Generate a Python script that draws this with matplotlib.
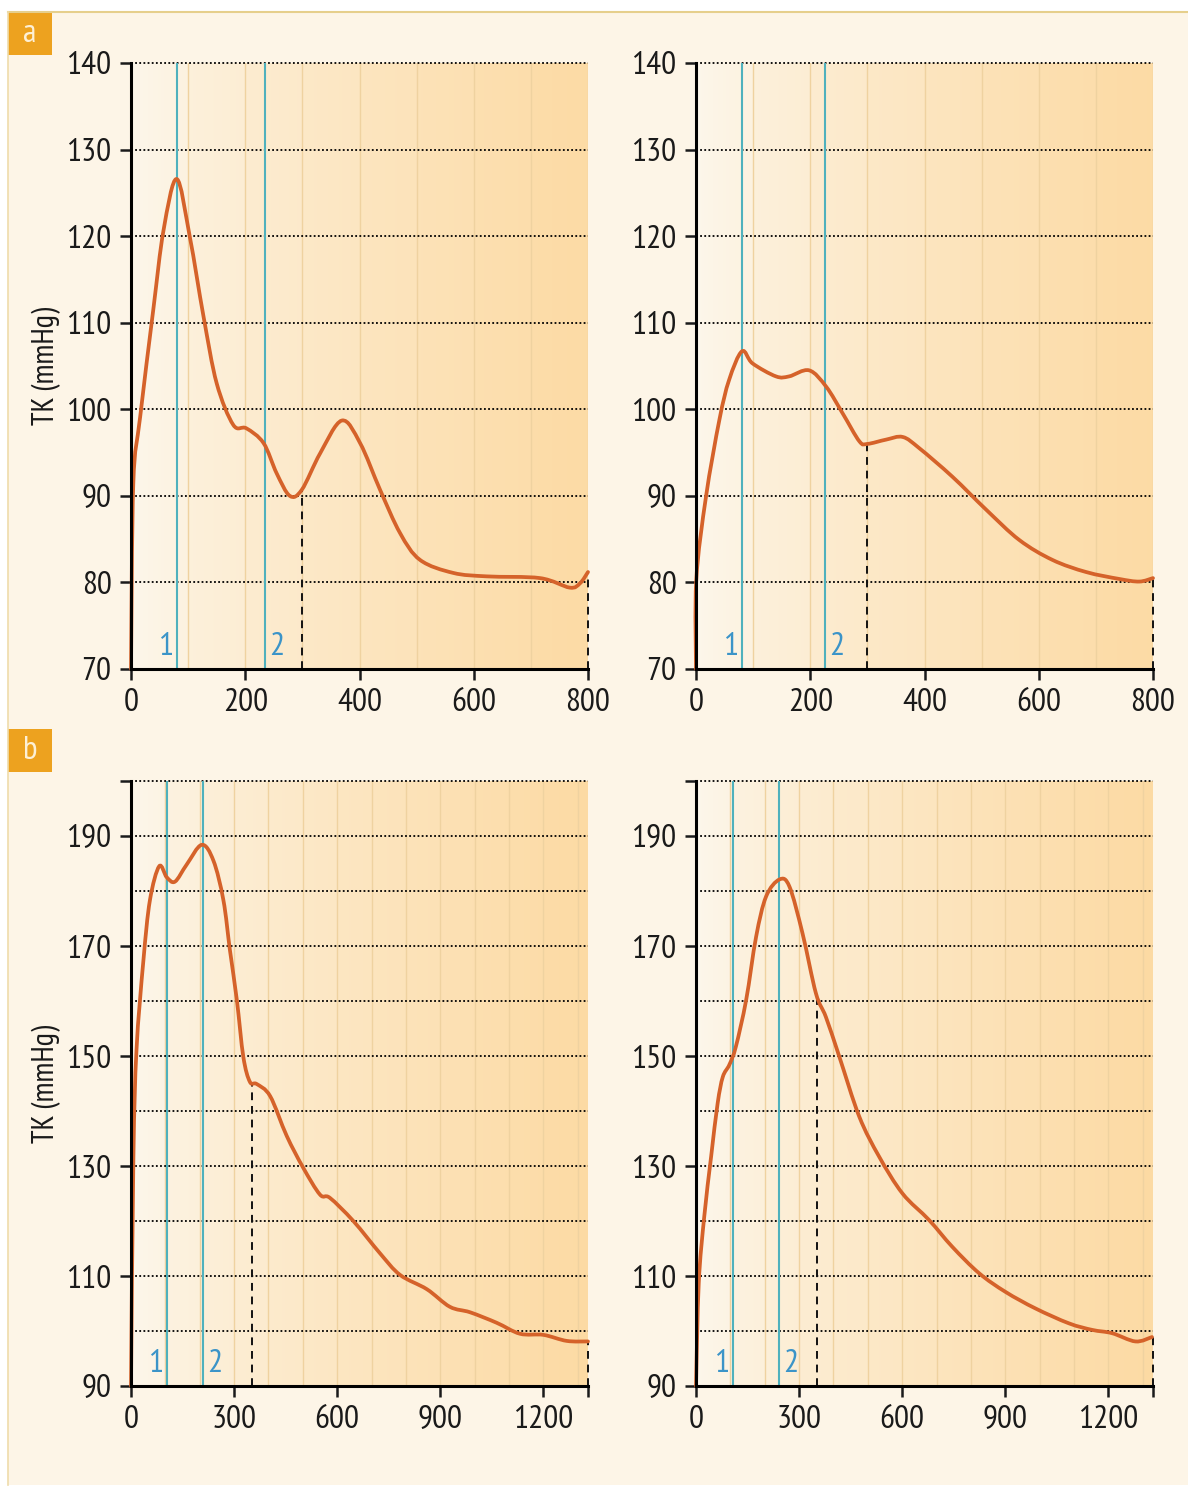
import numpy as np
import matplotlib.pyplot as plt
from matplotlib import font_manager
from matplotlib.patches import Rectangle, PathPatch
from matplotlib.path import Path
from matplotlib.lines import Line2D
from matplotlib.transforms import blended_transform_factory

# pick a condensed sans face if one is installed
fonts = font_manager.fontManager.ttflist
names = {f.name for f in fonts}
prefer = ['Liberation Sans Narrow', 'PT Sans Narrow', 'Fira Sans Condensed',
          'Open Sans Condensed', 'Roboto Condensed', 'Noto Sans Condensed',
          'Source Sans Pro', 'Source Sans 3', 'Archivo Narrow', 'Ubuntu Condensed',
          'IBM Plex Sans Condensed']
narrow = [n for n in prefer if n in names]
if not narrow:
    narrow = sorted(n for n in names if ('Narrow' in n or 'Condensed' in n) and 'Sans' in n)
if not narrow:
    narrow = sorted(n for n in names if 'Narrow' in n or 'Condensed' in n)
plt.rcParams['font.family'] = (narrow[:1] or ['Roboto']) + ['DejaVu Sans']

# panel a, left (time ms, pressure mmHg)
a1_t = [0, 4, 16, 39, 57, 80, 103, 127, 150, 179, 202, 232, 255, 278, 299, 331,
        369, 401, 436, 471, 506, 564, 623, 716, 768, 786, 800]
a1_p = [70, 91.4, 99.1, 111.5, 120.7, 126.6, 119.9, 110.7, 103, 98.2, 97.8, 96.1,
        92.6, 90.0, 90.7, 94.9, 98.7, 96.1, 90.7, 85.7, 82.6, 81.1, 80.7, 80.5,
        79.4, 79.9, 81.2]
# panel a, right
a2_t = [0, 0.5, 17.5, 41, 58, 80.5, 99, 140, 163, 198, 228, 257, 286, 300, 333,
        362, 391, 449, 508, 566, 624, 683, 741, 776, 800]
a2_p = [70, 80.3, 89.9, 98.8, 103.4, 106.7, 105.3, 103.8, 103.8, 104.5, 102.6,
        99.5, 96.3, 96.0, 96.5, 96.8, 95.5, 92.2, 88.4, 84.9, 82.6, 81.2, 80.4,
        80.1, 80.5]
# panel b, left
b1_t = [0, 7, 16, 36, 55, 82, 104, 128, 162, 206, 240, 269, 288, 308, 327, 346,
        366, 405, 453, 501, 550, 579, 647, 725, 783, 861, 928, 987, 1064, 1132,
        1200, 1268, 1330]
b1_p = [90, 131.6, 151.1, 167.3, 178.3, 184.5, 182.5, 181.7, 184.8, 188.4, 185.5,
        178.3, 169.2, 160.2, 149.8, 145.3, 144.9, 142.7, 135.5, 129.7, 124.8,
        124.2, 120.0, 114.1, 110.2, 107.6, 104.4, 103.4, 101.5, 99.5, 99.3, 98.2,
        98.1]
# panel b, right
b2_t = [0, 8, 24, 44, 63, 78, 97, 116, 146, 175, 204, 243, 272, 310, 349, 378,
        417, 475, 533, 601, 678, 746, 824, 901, 988, 1085, 1153, 1211, 1279, 1327]
b2_p = [90, 108.7, 120.8, 131.7, 141.4, 146.2, 148.4, 151.7, 160.2, 171.7, 179.0,
        182.1, 180.8, 172.3, 161.4, 157.1, 149.9, 139.0, 131.7, 125.0, 120.2,
        115.3, 110.5, 107.1, 104.1, 101.4, 100.2, 99.6, 98.1, 98.9]

# cyan markers 1 and 2, dashed drop lines (x, top value)
a1_marks = [80, 235]
a2_marks = [80, 226]
b1_marks = [105, 210]
b2_marks = [109, 243]
a1_drops = [(300, 90.7), (800, 81.2)]
a2_drops = [(300, 96.0), (800, 80.5)]
b1_drops = [(352, 145.3), (1330, 98.1)]
b2_drops = [(352, 160.3), (1330, 98.9)]

a_xticks = [0, 200, 400, 600, 800]
a_yticks = [70, 80, 90, 100, 110, 120, 130, 140]
b_xticks = [0, 300, 600, 900, 1200, 1330]
b_xlabels = ['0', '300', '600', '900', '1200', '']
b_yticks = [90, 110, 130, 150, 170, 190, 200]
b_ylabels = ['90', '110', '130', '150', '170', '190', '']

W, H = 1188, 1490
fig = plt.figure(figsize=(W / 100, H / 100), dpi=100)
fig.patch.set_facecolor('white')

# cream page, border and panel letters
fig.add_artist(Rectangle((8 / W, 1 - 1485 / H), (W - 8) / W, (1485 - 12) / H,
                         transform=fig.transFigure, facecolor='#fdf5e7', edgecolor='none', zorder=0))
fig.add_artist(Line2D([8 / W, 1], [1 - 12 / H, 1 - 12 / H], transform=fig.transFigure,
                      color='#e6cf8c', lw=1.5))
fig.add_artist(Line2D([8 / W, 8 / W], [1 - 12 / H, 1 - 1485 / H], transform=fig.transFigure,
                      color='#efdcaa', lw=1.2))
for letter, ytop in [('a', 12), ('b', 729)]:
    fig.add_artist(Rectangle((8 / W, 1 - (ytop + 43) / H), 44 / W, 43 / H,
                             transform=fig.transFigure, facecolor='#eda21f', edgecolor='none'))
    fig.text(30 / W, 1 - (ytop + 22) / H, letter, color='#fdf0d6', fontsize=24,
             ha='center', va='center')

light = np.array([253, 247, 236]) / 255
dark = np.array([252, 218, 163]) / 255


def smooth_path(t, p):
    # Catmull-Rom curve through the read points, drawn as cubic Bezier segments
    pts = np.column_stack([t, p]).astype(float)
    ext = np.vstack([pts[0], pts, pts[-1]])
    verts = [pts[0]]
    codes = [Path.MOVETO]
    for i in range(len(pts) - 1):
        p0, p1, p2, p3 = ext[i], ext[i + 1], ext[i + 2], ext[i + 3]
        verts += [p1 + (p2 - p0) / 6, p2 - (p3 - p1) / 6, p2]
        codes += [Path.CURVE4] * 3
    return Path(verts, codes)


def panel(rect, t, p, marks, drops, xmax, ylim, grid, xt, xl, yt, yl, ylabel):
    ax = fig.add_axes([rect[0] / W, 1 - rect[3] / H, (rect[2] - rect[0]) / W, (rect[3] - rect[1]) / H])
    ax.set_facecolor('none')
    # striped gradient background
    xs = np.linspace(0, xmax, 800)
    i = np.floor(xs / 100)
    f = xs / 100 - i
    tt = np.clip(((i + 0.6 * f) / (xmax / 100)) ** 0.7, 0, 1)
    img = light[None, :] + (dark - light)[None, :] * tt[:, None]
    ax.imshow(img[None, :, :], extent=[0, xmax, ylim[0], ylim[1]], aspect='auto',
              interpolation='bilinear', zorder=0)
    for x in range(100, int(xmax) + 1, 100):
        ax.axvline(x, color='#efd2a0', lw=1.0, zorder=0.5)
    for g in grid:
        ax.axhline(g, color='black', lw=1.3, ls=(0, (1, 1.3)), zorder=1, clip_on=False)
    for m in marks:
        ax.axvline(m, color='#4fb1bd', lw=1.5, zorder=2)
    tr = blended_transform_factory(ax.transData, ax.transAxes)
    ax.text(marks[0] - 7 * xmax / 800, 0.012, '1', transform=tr, color='#3b94c8',
            fontsize=24, ha='right', va='bottom')
    ax.text(marks[1] + 7 * xmax / 800, 0.012, '2', transform=tr, color='#3b94c8',
            fontsize=24, ha='left', va='bottom')
    for x, top in drops:
        ax.plot([x, x], [ylim[0], top], color='#111111', lw=1.4, ls=(0, (4, 3)),
                zorder=2, clip_on=False)
    ax.add_patch(PathPatch(smooth_path(t, p), facecolor='none', edgecolor='#d5622a',
                           lw=2.7, zorder=3, capstyle='round', joinstyle='round',
                           clip_on=False))
    ax.set_xlim(0, xmax)
    ax.set_ylim(*ylim)
    for s in ['top', 'right']:
        ax.spines[s].set_visible(False)
    for s in ['left', 'bottom']:
        ax.spines[s].set_linewidth(2.2)
        ax.spines[s].set_zorder(4)
    ax.set_xticks(xt)
    ax.set_xticklabels(xl)
    ax.set_yticks(yt)
    ax.set_yticklabels(yl)
    ax.tick_params(direction='out', length=8, width=1.8, labelsize=24,
                   colors='#1a1a1a')
    ax.tick_params(axis='x', pad=6)
    ax.tick_params(axis='y', pad=6)
    if ylabel:
        ax.set_ylabel('TK (mmHg)', fontsize=22, labelpad=4, color='#1a1a1a')
    return ax


a_grid = [80, 90, 100, 110, 120, 130, 140]
b_grid = [100, 110, 120, 130, 140, 150, 160, 170, 180, 190, 200]
a_xl = [str(v) for v in a_xticks]
a_yl = [str(v) for v in a_yticks]

panel((131, 63, 588, 669), a1_t, a1_p, a1_marks, a1_drops, 800, (70, 140), a_grid,
      a_xticks, a_xl, a_yticks, a_yl, True)
panel((696, 63, 1153, 669), a2_t, a2_p, a2_marks, a2_drops, 800, (70, 140), a_grid,
      a_xticks, a_xl, a_yticks, a_yl, False)
panel((131, 781, 588, 1386), b1_t, b1_p, b1_marks, b1_drops, 1330, (90, 200), b_grid,
      b_xticks, b_xlabels, b_yticks, b_ylabels, True)
panel((696, 781, 1153, 1386), b2_t, b2_p, b2_marks, b2_drops, 1330, (90, 200), b_grid,
      b_xticks, b_xlabels, b_yticks, b_ylabels, False)

fig.savefig('out.png', dpi=100, facecolor=fig.get_facecolor())
